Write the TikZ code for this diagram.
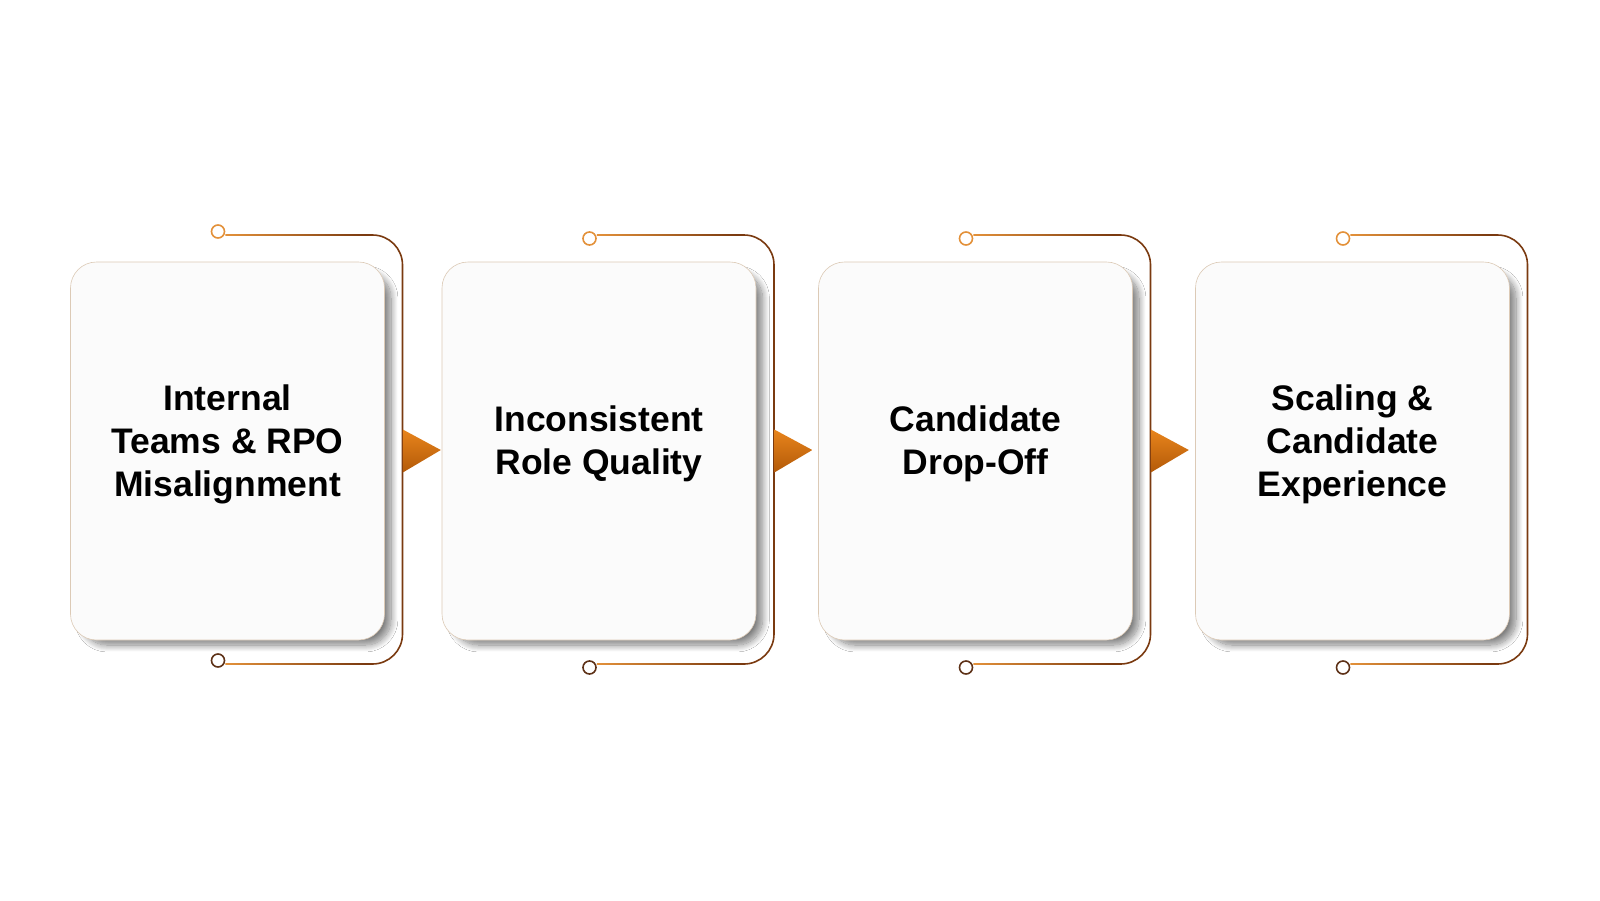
\documentclass[tikz,border=0pt]{standalone}
\usepackage{fontspec}
\setmainfont{Liberation Sans}
\usetikzlibrary{shadows.blur,calc}
\definecolor{orA}{HTML}{E3913A}
\definecolor{brA}{HTML}{7A3A10}
\definecolor{brB}{HTML}{5E3218}
\definecolor{triT}{HTML}{E8841C}
\definecolor{triB}{HTML}{B35A08}
\definecolor{boxfill}{HTML}{FBFBFB}
\definecolor{boxline}{HTML}{DCCAB6}
\tikzset{
 card/.style={rectangle, rounded corners=26pt, minimum width=314pt, minimum height=378pt,
   fill=boxfill, draw=boxline, line width=0.6pt,
   blur shadow={shadow xshift=9pt, shadow yshift=-8pt, shadow scale=0.985, shadow blur radius=7pt, shadow blur steps=14, shadow opacity=50}},
 cardtext/.style={align=center, font=\fontsize{35.5}{43}\selectfont\bfseries, text=black},
 dot/.style={circle, line width=1.6pt, minimum size=13pt, inner sep=0pt, fill=white},
 bracket/.style={draw=brA, line width=1.6pt, rounded corners=30pt},
}
\begin{document}
\begin{tikzpicture}[x=1pt,y=-1pt]
\useasboundingbox (0,0) rectangle (1600,900);
\fill[white] (0,0) rectangle (1600,900);
% brackets first (behind cards)
\foreach \i/\cx/\dy in {1/227.5/-3.5,2/599/3.5,3/975.5/3.5,4/1352.5/3.5} {
  \coordinate (bnw\i) at (\cx-157,262);
  \coordinate (bne\i) at (\cx+157,262);
  \coordinate (bsw\i) at (\cx-157,640);
  \coordinate (bse\i) at (\cx+157,640);
  \coordinate (tlA\i) at ($(bne\i)+(-20,-27)$);
  \coordinate (tlB\i) at ($(bne\i)+(18,-27)$);
  \coordinate (blB\i) at ($(bse\i)+(18,24)$);
  \coordinate (blA\i) at ($(bse\i)+(-20,24)$);
  \draw[bracket] (tlA\i) -- (tlB\i) -- (blB\i) -- (blA\i);
  \node[dot, draw=orA] (ct\i) at ($(bnw\i)+(147.5,-27+\dy)$) {};
  \node[dot, draw=brB] (cb\i) at ($(bsw\i)+(147.5,24+\dy)$) {};
  \shade[left color=orA, right color=brA] ($(ct\i.east |- tlA\i)+(0,-0.8)$) rectangle ($(tlA\i)+(0.5,0.8)$);
  \shade[left color=orA, right color=brA] ($(cb\i.east |- blA\i)+(0,-0.8)$) rectangle ($(blA\i)+(0.5,0.8)$);
}
\node[card] (b1) at (227.5,451) {};
\node[card] (b2) at (599,451) {};
\node[card] (b3) at (975.5,451) {};
\node[card] (b4) at (1352.5,451) {};
\node[cardtext] (t1) at ($(b1.center)+(0,-7)$) {Internal\\Teams \& RPO\\Misalignment};
\node[cardtext] (t2) at ($(b2.center)+(0,-7)$) {Inconsistent\\Role Quality};
\node[cardtext] (t3) at ($(b3.center)+(0,-7)$) {Candidate\\Drop-Off};
\node[cardtext] (t4) at ($(b4.center)+(0,-7)$) {Scaling \&\\Candidate\\Experience};
\foreach \i in {1,2,3} {
  \shade[top color=triT, bottom color=triB]
    ($(b\i.east)+(18,-21.5)$) -- ($(b\i.east)+(56,-1)$) -- ($(b\i.east)+(18,21.5)$) -- cycle;
}
\end{tikzpicture}
\end{document}
